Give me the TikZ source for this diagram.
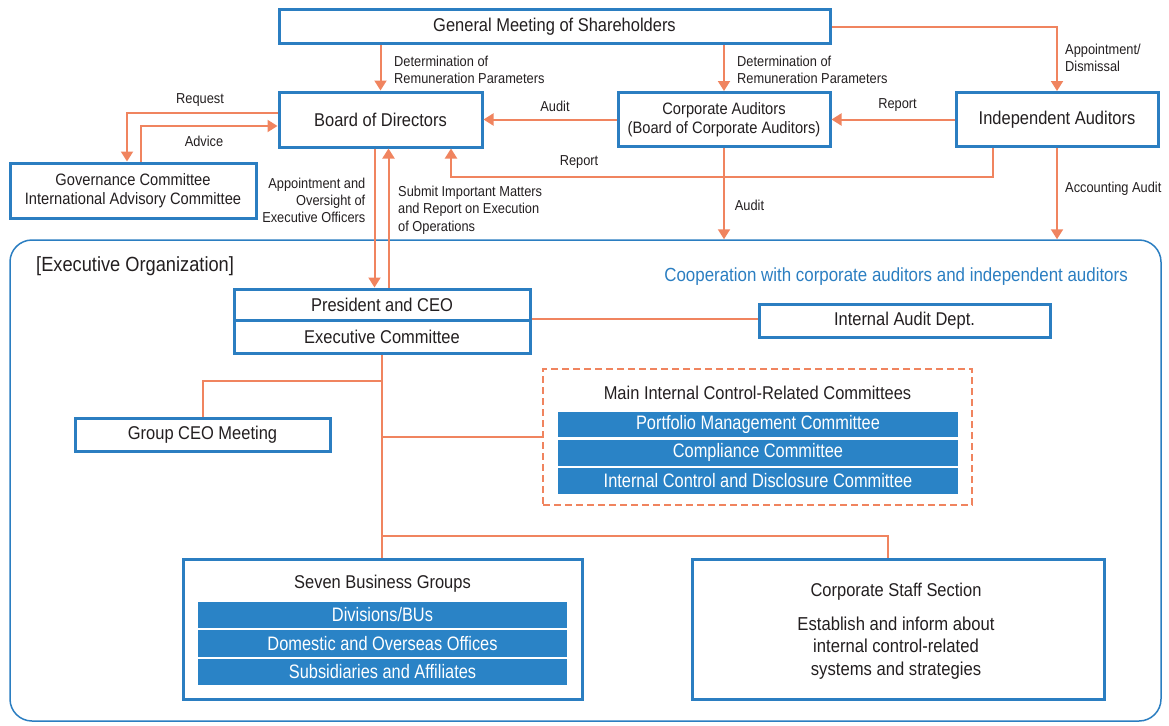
\documentclass[tikz,border=0pt]{standalone}
\usepackage{fontspec}
\setmainfont{Liberation Sans}[FakeStretch=0.89]
\newfontfamily\barfont{Liberation Sans}[FakeStretch=0.84]
\usetikzlibrary{arrows.meta}
\definecolor{bbox}{HTML}{2B7EC1}
\definecolor{bfill}{HTML}{2A83C6}
\definecolor{orl}{HTML}{F0845F}
\definecolor{txt}{HTML}{231F20}
\newcommand\mytitlefont{\fontsize{18.5}{21}\selectfont}
\newcommand\mytwofont{\fontsize{16.5}{19.5}\selectfont}
\begin{document}
\begin{tikzpicture}[x=1pt,y=-1pt,
  box/.style={draw=bbox, line width=3pt, fill=white, inner sep=0pt, align=center, text=txt, font=\mytitlefont},
  twobox/.style={box, font=\mytwofont},
  bar/.style={fill=bfill, text=white, inner sep=0pt, font=\barfont\fontsize{19.5}{20}\selectfont},
  lbl/.style={inner sep=0pt, text=txt, font=\fontsize{14.4}{17.3}\selectfont},
  arr/.style={draw=orl, line width=2pt, -{Triangle[width=12pt,length=10pt]}},
  ln/.style={draw=orl, line width=2pt}]
\useasboundingbox (0,0) rectangle (1169,725);

% executive organization frame
\node[draw=bbox, line width=1.5pt, rounded corners=22pt, minimum width=1151pt, minimum height=481pt, inner sep=0pt] (exo) at (585.5,480.5) {};
\node[lbl, anchor=west, font=\fontsize{20.5}{22}\selectfont] (exot) at (36,266) {[Executive Organization]};
\node[inner sep=0pt, anchor=east, text=bbox, font=\fontsize{19}{21}\selectfont] (coop) at (1128,277) {Cooperation with corporate auditors and independent auditors};

% top boxes
\node[box, minimum width=551pt, minimum height=34pt] (gm) at (554.5,27) {General Meeting of Shareholders};
\node[box, minimum width=203pt, minimum height=55pt] (board) at (380.5,119.5) {Board of Directors};
\node[twobox, minimum width=212pt, minimum height=54pt] (ca) at (724,119.5) {Corporate Auditors\\(Board of Corporate Auditors)};
\node[box, minimum width=202pt, minimum height=54pt] (ind) at (1057,119.5) {Independent Auditors};
\node[twobox, minimum width=246pt, minimum height=55pt] (gov) at (133,190.5) {Governance Committee\\International Advisory Committee};

% executive boxes
\node[box, minimum width=296pt, minimum height=31pt] (pres) at (382,304.5) {President and CEO};
\node[box, minimum width=296pt, minimum height=33pt] (exec) at (382,336.5) {Executive Committee};
\node[box, minimum width=291pt, minimum height=33pt] (ia) at (904.5,320.5) {Internal Audit Dept.};
\node[box, minimum width=255pt, minimum height=33pt] (gceo) at (202.5,434.5) {Group CEO Meeting};

% main internal control committees
\node[draw=orl, line width=1.5pt, dash pattern=on 7pt off 4pt, minimum width=429pt, minimum height=136pt, inner sep=0pt] (mic) at (757.5,437) {};
\node[lbl, font=\mytitlefont] (mict) at (757.5,393) {Main Internal Control-Related Committees};
\node[bar, minimum width=400pt, minimum height=25pt] (pmc) at (758,424.5) {Portfolio Management Committee};
\node[bar, minimum width=400pt, minimum height=26pt] (cc) at (758,452.5) {Compliance Committee};
\node[bar, minimum width=400pt, minimum height=26pt] (icdc) at (758,481) {Internal Control and Disclosure Committee};

% bottom boxes
\node[box, minimum width=399pt, minimum height=140pt] (sbg) at (382.5,629) {};
\node[lbl, font=\mytitlefont] (sbgt) at (382.5,584) {Seven Business Groups};
\node[bar, minimum width=369pt, minimum height=26pt] (div) at (382.5,615) {Divisions/BUs};
\node[bar, minimum width=369pt, minimum height=27pt] (dom) at (382.5,643.5) {Domestic and Overseas Offices};
\node[bar, minimum width=369pt, minimum height=26pt] (sub) at (382.5,672) {Subsidiaries and Affiliates};

\node[box, minimum width=412pt, minimum height=140pt] (css) at (898,629) {};
\node[lbl, font=\mytitlefont] (csst) at (896,592) {Corporate Staff Section};
\node[lbl, align=center, font=\fontsize{18.7}{22.5}\selectfont] (cssb) at (896,648) {Establish and inform about\\internal control-related\\systems and strategies};

% connectors, top
\draw[arr] (gm.south -| board) -- (board.north);
\draw[arr] (gm.south -| ca) -- (ca.north);
\draw[arr] (gm.east) -| (ind.north);
\draw[arr] (ca.west) -- (board.east);
\draw[arr] (ind.west) -- (ca.east);
\draw[arr] ([yshift=6.5pt]board.west) -| ([xshift=-6pt]gov.north);
\draw[arr] ([xshift=8pt]gov.north) |- ([yshift=-6.5pt]board.west);
\draw[arr] ([xshift=-64pt]ind.south) -- ++(0,29) -| ([xshift=70.5pt]board.south);
\draw[arr] (ca.south) -- (ca.south |- exo.north);
\draw[arr] (ind.south) -- (ind.south |- exo.north);
\draw[arr] ([xshift=-6pt]board.south) -- ([xshift=-6pt]board.south |- pres.north);
\draw[arr] ([xshift=8pt]board.south |- pres.north) -- ([xshift=8pt]board.south);

% connectors, executive
\draw[ln] (exec.north east) -- (exec.north east -| ia.west);
\draw[ln] (exec.south) -- (exec.south |- sbg.north);
\draw[ln] (exec.south |- 0,381) -| (gceo.north);
\draw[ln] (exec.south |- mic.west) -- (mic.west);
\draw[ln] (exec.south |- 0,536) -| ([xshift=-10pt]css.north);

% labels
\node[lbl, anchor=west, align=left] (l1) at (394,70) {Determination of\\Remuneration Parameters};
\node[lbl, anchor=west, align=left] (l2) at (737,70) {Determination of\\Remuneration Parameters};
\node[lbl, anchor=west, align=left] (l3) at (1065,58) {Appointment/\\Dismissal};
\node[lbl] (l4) at (200,100) {Request};
\node[lbl] (l5) at (204,141) {Advice};
\node[lbl] (l6) at (555,106) {Audit};
\node[lbl] (l7) at (897.5,105) {Report};
\node[lbl] (l8) at (579,162) {Report};
\node[lbl] (l9) at (749.5,205) {Audit};
\node[lbl, anchor=west] (l10) at (1065,189) {Accounting Audit};
\node[lbl, anchor=east, align=right] (l11) at (365.5,200.5) {Appointment and\\Oversight of\\Executive Officers};
\node[lbl, anchor=west, align=left] (l12) at (398,210) {Submit Important Matters\\and Report on Execution\\of Operations};
\end{tikzpicture}
\end{document}
